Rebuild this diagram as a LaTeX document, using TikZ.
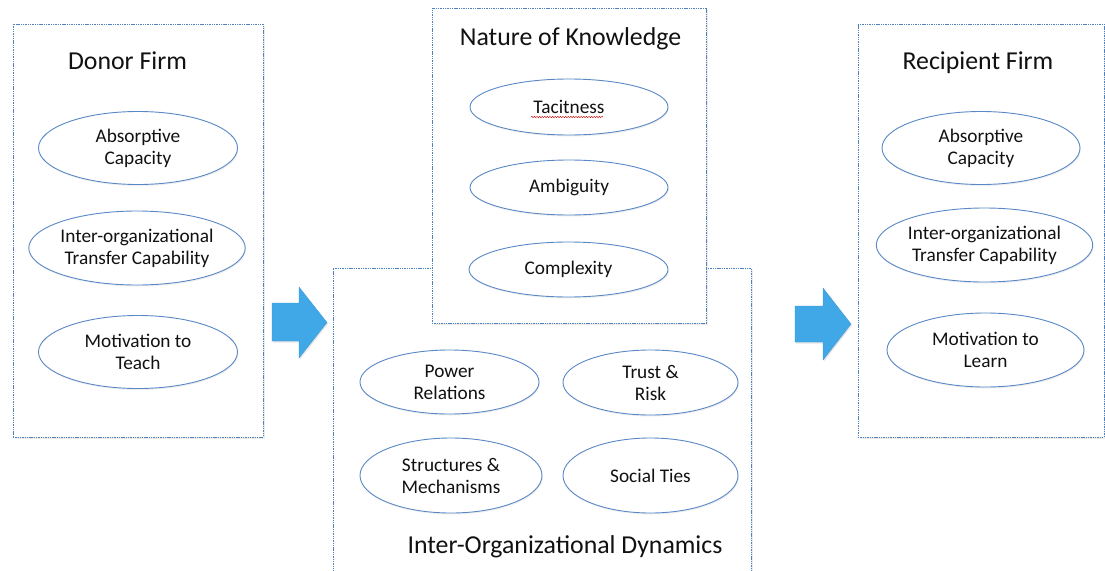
\documentclass[tikz,border=0pt]{standalone}
\usepackage{fontspec}
\setmainfont{Carlito}
\usetikzlibrary{shapes.geometric,shadows,decorations.pathmorphing}
\definecolor{boxblue}{HTML}{4F81BD}
\definecolor{ellblue}{HTML}{5A88C6}
\definecolor{arrblue}{HTML}{41A8E8}
\definecolor{txt}{HTML}{111111}
\begin{document}
\begin{tikzpicture}[x=1pt,y=-1pt,
  box/.style={draw=boxblue, line width=0.7pt, dash pattern=on 1.4pt off 0.9pt, fill=white,
    drop shadow={opacity=0.15, shadow xshift=1.5pt, shadow yshift=-1.5pt}, inner sep=0pt},
  ell/.style={ellipse, draw=ellblue, line width=0.9pt, fill=white, inner sep=0pt, align=center,
    font=\fontsize{19.3}{22}\selectfont, text=txt,
    drop shadow={opacity=0.12, shadow xshift=0.8pt, shadow yshift=-1.5pt}},
  ttl/.style={font=\fontsize{25.8}{29}\selectfont, text=txt, inner sep=0pt, anchor=base},
  bigarrow/.style={fill=arrblue, draw=arrblue!90!black, line width=0.3pt,
    drop shadow={opacity=0.2, shadow xshift=1pt, shadow yshift=-1.5pt}},
]
\useasboundingbox (0,0) rectangle (1105,570);
\clip (0,0) rectangle (1105,570);
\fill[white] (0,0) rectangle (1105,570);

% boxes
\node[box, minimum width=250pt, minimum height=413pt] (donor) at (138,230.5) {};
\node[box, minimum width=246pt, minimum height=413pt] (recip) at (981,230.5) {};
\node[box, minimum width=418pt, minimum height=320pt] (dyn) at (542,428) {};
\node[box, minimum width=274pt, minimum height=315pt] (nature) at (569,165.5) {};

% titles
\node[ttl] (tdonor) at (127.5,69) {Donor Firm};
\node[ttl] (trecip) at (978,69) {Recipient Firm};
\node[ttl] (tnature) at (570.5,45) {Nature of Knowledge};
\node[ttl] (tdyn) at (565,553) {Inter-Organizational Dynamics};

% donor ellipses
\node[ell, minimum width=199pt, minimum height=73pt] (d1) at (138,148) {Absorptive\\Capacity};
\node[ell, minimum width=199pt, minimum height=74pt] (d2) at (137,248) {Inter-organizational\\Transfer Capability};
\node[ell, minimum width=199pt, minimum height=73pt] (d3) at (138,352) {Motivation to\\Teach};

% recipient ellipses
\node[ell, minimum width=198pt, minimum height=73pt] (r1) at (981,148) {Absorptive\\Capacity};
\node[ell, minimum width=197pt, minimum height=74pt] (r2) at (984.5,245) {Inter-organizational\\Transfer Capability};
\node[ell, minimum width=197pt, minimum height=74pt] (r3) at (985.5,350) {Motivation to\\Learn};

% nature ellipses
\node[ell, minimum width=198pt, minimum height=56pt] (n1) at (569,107) {Tacitness};
\node[ell, minimum width=198pt, minimum height=55pt] (n2) at (569,187.5) {Ambiguity};
\node[ell, minimum width=199pt, minimum height=55pt] (n3) at (568.5,269.5) {Complexity};
\draw[red!80!black, line width=0.4pt, decorate, decoration={snake, amplitude=0.7pt, segment length=2.6pt}]
  (531,117) -- (603,117);

% dynamics ellipses
\node[ell, minimum width=179pt, minimum height=64pt] (p1) at (449.5,382) {Power\\Relations};
\node[ell, minimum width=175pt, minimum height=65pt] (p2) at (650.5,382.5) {Trust \&\\Risk};
\node[ell, minimum width=182pt, minimum height=75pt] (p3) at (451,475.5) {Structures \&\\Mechanisms};
\node[ell, minimum width=175pt, minimum height=75pt] (p4) at (650.5,475.5) {Social Ties};

% block arrows
\path[bigarrow] (272,303) -- (299,303) -- (299,287) -- (327,322.5) -- (299,358) -- (299,341) -- (272,341) -- cycle;
\path[bigarrow] (795,306) -- (823,306) -- (823,288) -- (851,324) -- (823,360) -- (823,342) -- (795,342) -- cycle;
\end{tikzpicture}
\end{document}
